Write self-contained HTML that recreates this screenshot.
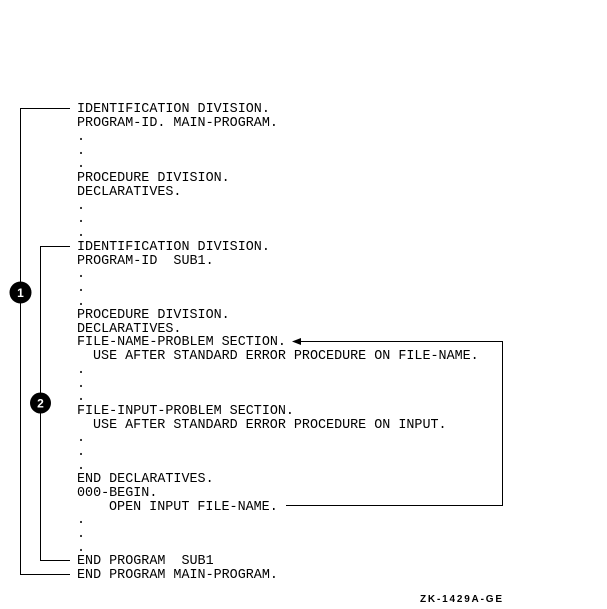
<!DOCTYPE html>
<html><head><meta charset="utf-8"><style>
html,body{margin:0;padding:0;background:#fff;width:607px;height:609px;overflow:hidden}
text{font-family:"Liberation Mono",monospace;font-size:13.4px;fill:#000;white-space:pre}
</style></head><body>
<svg width="607" height="609" viewBox="0 0 607 609" xmlns="http://www.w3.org/2000/svg" xml:space="preserve">
<g stroke="#000" stroke-width="1" fill="none" shape-rendering="crispEdges">
<polyline points="70,108.5 20.5,108.5 20.5,574.5 70,574.5"/>
<polyline points="70,246.5 40.5,246.5 40.5,560.5 70,560.5"/>
<polyline points="286,505.5 502.5,505.5 502.5,341.5 298,341.5"/>
</g>
<polygon points="292,341.5 301,338 301,345" fill="#000"/>
<circle cx="20.5" cy="292.5" r="11" fill="#000"/>
<text x="20.5" y="297" text-anchor="middle" style="fill:#fff;font-family:'Liberation Sans',sans-serif;font-weight:bold;font-size:12px">1</text>
<circle cx="40.5" cy="403" r="10.5" fill="#000"/>
<text x="40.5" y="407.5" text-anchor="middle" style="fill:#fff;font-family:'Liberation Sans',sans-serif;font-weight:bold;font-size:12px">2</text>
<g>
<text x="77" y="112">IDENTIFICATION DIVISION.</text>
<text x="77" y="126">PROGRAM-ID. MAIN-PROGRAM.</text>
<text x="77" y="140">.</text>
<text x="77" y="154">.</text>
<text x="77" y="167">.</text>
<text x="77" y="181">PROCEDURE DIVISION.</text>
<text x="77" y="195">DECLARATIVES.</text>
<text x="77" y="209">.</text>
<text x="77" y="222">.</text>
<text x="77" y="236">.</text>
<text x="77" y="250">IDENTIFICATION DIVISION.</text>
<text x="77" y="264">PROGRAM-ID  SUB1.</text>
<text x="77" y="277">.</text>
<text x="77" y="291">.</text>
<text x="77" y="305">.</text>
<text x="77" y="318">PROCEDURE DIVISION.</text>
<text x="77" y="332">DECLARATIVES.</text>
<text x="77" y="345">FILE-NAME-PROBLEM SECTION.</text>
<text x="93" y="359">USE AFTER STANDARD ERROR PROCEDURE ON FILE-NAME.</text>
<text x="77" y="373">.</text>
<text x="77" y="387">.</text>
<text x="77" y="400">.</text>
<text x="77" y="414">FILE-INPUT-PROBLEM SECTION.</text>
<text x="93" y="428">USE AFTER STANDARD ERROR PROCEDURE ON INPUT.</text>
<text x="77" y="441">.</text>
<text x="77" y="455">.</text>
<text x="77" y="469">.</text>
<text x="77" y="482">END DECLARATIVES.</text>
<text x="77" y="496">000-BEGIN.</text>
<text x="109" y="510">OPEN INPUT FILE-NAME.</text>
<text x="77" y="523">.</text>
<text x="77" y="537">.</text>
<text x="77" y="551">.</text>
<text x="77" y="564">END PROGRAM  SUB1</text>
<text x="77" y="578">END PROGRAM MAIN-PROGRAM.</text>
</g>
<text x="420" y="602" textLength="82" lengthAdjust="spacing" style="font-family:'Liberation Sans',sans-serif;font-size:10px;font-weight:bold">ZK-1429A-GE</text>
</svg>
</body></html>
